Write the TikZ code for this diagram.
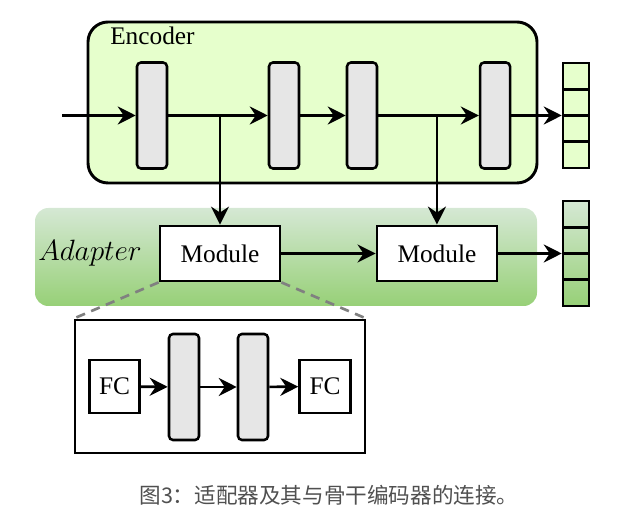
\RequirePackage{fix-cm}
\documentclass[tikz,border=0pt]{standalone}
\usepackage{fontspec}
\setmainfont{Liberation Serif}
\newfontfamily\cjk{Noto Sans CJK SC}
\usetikzlibrary{arrows.meta,positioning,calc}

\definecolor{encfill}{HTML}{E6FFCC}
\definecolor{layerfill}{HTML}{E6E6E6}
\definecolor{adaptop}{HTML}{D5E8D4}
\definecolor{adapbot}{HTML}{97D077}
\definecolor{captiongray}{HTML}{505050}

\begin{document}
\begin{tikzpicture}[
    x=0.75pt, y=-0.75pt,
    font=\fontsize{19pt}{23pt}\selectfont,
    container/.style={rectangle, draw, line width=2.2pt, rounded corners=15pt, fill=encfill, minimum width=336.75pt, minimum height=120.75pt},
    layer/.style={rectangle, draw, rounded corners=3pt, line width=1.9pt, fill=layerfill, minimum width=22.5pt, minimum height=79.5pt, inner sep=0pt},
    module/.style={rectangle, draw, line width=2.1pt, fill=white, minimum width=90pt, minimum height=41.25pt, inner sep=0pt},
    fc/.style={module, minimum width=38pt, minimum height=39.75pt},
    cell/.style={rectangle, draw, line width=1.9pt, minimum width=19.5pt, minimum height=19.7pt, inner sep=0pt},
    arrow/.style={-{Stealth[length=13.5pt, width=13.5pt, inset=4.5pt]}, line width=2pt},
    zoomline/.style={line width=2pt, draw=gray, dash pattern=on 7pt off 5pt}
]
    \useasboundingbox (0,0) rectangle (628,530);

    % encoder and adapter backgrounds
    \node[container] (encoder) at (312.5,102.5) {};
    \node[anchor=west, inner sep=0pt] (enclabel) at (110,36) {Encoder};
    \shade[top color=adaptop, bottom color=adapbot, rounded corners=10pt] (35,208) rectangle (537,306);
    \node[anchor=west, inner sep=0pt] (adaplabel) at (38,253) {\fontsize{22pt}{26pt}\selectfont$Adapter$};

    % encoder layers
    \coordinate (input) at (62,115.5);
    \node[layer] (l1) at (152,115.5) {};
    \node[layer, right=74.6pt of l1] (l2) {};
    \node[layer, right=34.1pt of l2] (l3) {};
    \node[layer, right=75.4pt of l3] (l4) {};

    % adapter modules
    \node[module] (m1) at (220,253.5) {Module};
    \node[module, right=70.6pt of m1] (m2) {Module};

    % output stacks
    \foreach \i in {1,...,4} {
        \node[cell, fill=encfill] (a\i) at (576,{63+26.25*(\i-0.5)}) {};
        \pgfmathtruncatemacro{\ptop}{(\i-1)*25}
        \pgfmathtruncatemacro{\pbot}{\i*25}
        \node[cell, top color=adapbot!\ptop!adaptop, bottom color=adapbot!\pbot!adaptop] (b\i) at (576,{201+26.25*(\i-0.5)}) {};
    }

    \draw[arrow] (input) -- (l1);
    \draw[arrow] (l1) -- (l2);
    \draw[arrow] (l2) -- (l3);
    \draw[arrow] (l3) -- (l4);
    \draw[arrow] (l4) -- (l4 -| a2.west);
    \draw[arrow] (m1 |- l1) -- (m1.north);
    \draw[arrow] (m2 |- l3) -- (m2.north);
    \draw[arrow] (m1) -- (m2);
    \draw[arrow] (m2) -- (m2 -| b2.west);

    % module detail
    \node[module, minimum width=217.5pt, minimum height=99.75pt] (detail) at (220,386.5) {};
    \draw[zoomline] (m1.south west) -- (detail.north west);
    \draw[zoomline] (m1.south east) -- (detail.north east);
    \node[fc] (fc1) at (114.5,386.5) {FC};
    \node[layer] (d1) at (184,387) {};
    \node[layer] (d2) at (253,387) {};
    \node[fc] (fc2) at (325,386.5) {FC};
    \draw[arrow] (fc1) -- (d1);
    \draw[arrow] (d1) -- (d2);
    \draw[arrow] (d2) -- (fc2);

    \node[text=captiongray, font=\cjk\fontsize{16.2pt}{20pt}\selectfont] (caption) at (329,495) {图3：适配器及其与骨干编码器的连接。};
\end{tikzpicture}
\end{document}
